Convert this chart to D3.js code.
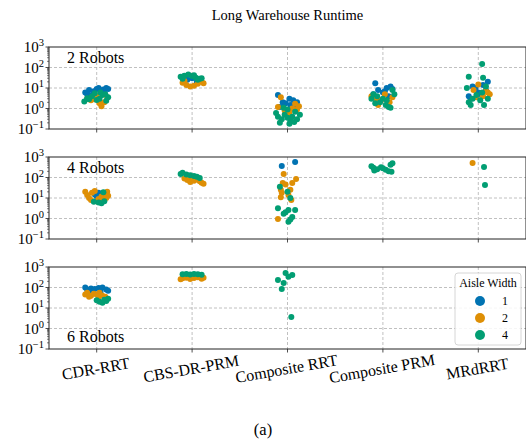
<!DOCTYPE html>
<html>
<head>
<meta charset="utf-8">
<script src="https://cdn.jsdelivr.net/npm/d3@7"></script>
<style>
  body { margin: 0; background: #fff; }
  svg { display: block; font-family: "Liberation Serif", "Times New Roman", serif; }
</style>
</head>
<body>
<div id="chart"></div>
<script>
const planners = ["CDR-RRT", "CBS-DR-PRM", "Composite RRT", "Composite PRM", "MRdRRT"];
const panels = ["2 Robots", "4 Robots", "6 Robots"];
const widths = [1, 2, 4];
const colors = ["#0173b2", "#de8f05", "#029e73"];
const decades = [-1, 0, 1, 2, 3];

// each run: [planner, aisle width, jitter (fraction of band), runtime]
const runs2 = [
  [0,1,-0.12,6],[0,1,-0.08,8],[0,1,-0.1,5],[0,1,-0.03,7],[0,1,0,9],[0,1,0.04,6.5],[0,1,0.07,8.5],[0,1,0.1,10],[0,1,0.12,9],[0,1,0.08,5.5],[0,1,-0.05,4.5],[0,1,0.02,10],
  [0,2,-0.1,3],[0,2,-0.06,2.5],[0,2,0,4],[0,2,0.05,1.3],[0,2,0.08,2],[0,2,0.11,3.5],[0,2,-0.02,2.8],[0,2,0.03,1.8],
  [0,4,-0.13,2.2],[0,4,-0.1,3.2],[0,4,-0.05,4],[0,4,-0.02,5.5],[0,4,0,2.6],[0,4,0.03,3],[0,4,0.06,4.5],[0,4,0.1,2.4],[0,4,0.12,3.5],[0,4,-0.08,2.8],[0,4,0.04,6],[0,4,0.09,5],
  [1,1,-0.05,25],[1,1,0,30],[1,1,0.05,20],[1,1,0.08,22],[1,1,-0.1,35],
  [1,2,-0.1,18],[1,2,-0.06,14],[1,2,-0.02,12],[1,2,0.02,13],[1,2,0.06,16],[1,2,0.1,20],[1,2,0.12,17],[1,2,-0.08,22],
  [1,4,-0.12,35],[1,4,-0.08,40],[1,4,-0.04,45],[1,4,0,38],[1,4,0.04,32],[1,4,0.08,28],[1,4,-0.1,28],[1,4,0.02,42],[1,4,0.06,25],[1,4,0.1,30],
  [2,1,-0.1,4.5],[2,1,-0.05,2],[2,1,0.02,3],[2,1,0.06,2.5],[2,1,0.1,2],[2,1,0.03,1.5],[2,1,-0.08,1.2],[2,1,0.08,1],[2,1,-0.02,1.8],
  [2,2,-0.07,3.5],[2,2,-0.1,1.2],[2,2,0.05,1],[2,2,0.1,0.9],[2,2,0.12,1.3],[2,2,-0.03,0.8],[2,2,0.02,0.6],[2,2,0.08,1.7],
  [2,4,-0.12,0.6],[2,4,-0.1,0.4],[2,4,-0.06,0.3],[2,4,-0.03,0.5],[2,4,0,0.9],[2,4,0.03,0.25],[2,4,0.05,0.4],[2,4,0.08,0.7],[2,4,-0.08,0.2],[2,4,0.02,0.18],[2,4,0.07,0.22],[2,4,0.1,0.3],[2,4,0.13,0.5],[2,4,-0.04,1.1],[2,4,0,0.35],
  [3,1,-0.08,17],[3,1,-0.05,8],[3,1,0,6],[3,1,0.04,10],[3,1,0.08,12],[3,1,0.1,9],[3,1,-0.1,5],[3,1,0.06,4],[3,1,0.02,7],
  [3,2,-0.12,4],[3,2,-0.07,3],[3,2,-0.02,2.5],[3,2,0.02,5],[3,2,0.07,2],[3,2,0.1,3.5],[3,2,-0.05,1.5],
  [3,4,-0.12,3],[3,4,-0.1,5],[3,4,-0.06,4],[3,4,-0.03,2],[3,4,0,3],[3,4,0.03,1.5],[3,4,0.06,1.2],[3,4,0.1,8],[3,4,0.12,5],[3,4,-0.08,1.8],[3,4,0.04,2.5],[3,4,0.08,1.1],
  [4,1,-0.1,4],[4,1,-0.06,12],[4,1,-0.03,10],[4,1,0,6],[4,1,0.05,14],[4,1,0.1,20],[4,1,0.08,8],[4,1,-0.08,3],[4,1,0.02,5],
  [4,2,-0.05,8],[4,2,0,15],[4,2,0.05,4],[4,2,0.1,6],[4,2,0.12,5],[4,2,-0.02,3.5],[4,2,0.08,7],
  [4,4,0.04,150],[4,4,-0.1,35],[4,4,0.05,32],[4,4,-0.1,2],[4,4,-0.06,3],[4,4,-0.02,4.5],[4,4,0.02,2.5],[4,4,0.06,1.5],[4,4,0.1,3],[4,4,0.04,6],[4,4,-0.08,1.5],[4,4,-0.12,10],[4,4,0.08,12]
];
const runs4 = [
  [0,1,-0.02,15],[0,1,0.02,18],[0,1,0,12],
  [0,2,-0.12,20],[0,2,-0.1,14],[0,2,-0.08,10],[0,2,-0.05,18],[0,2,-0.02,22],[0,2,0.02,9],[0,2,0.05,12],[0,2,0.08,16],[0,2,0.11,20],[0,2,0.12,13],[0,2,-0.06,8],[0,2,0,7],[0,2,0.06,9],[0,2,0.1,10],
  [0,4,0.02,6],[0,4,0.05,5.5],[0,4,0.08,7],[0,4,-0.03,6.5],[0,4,0.07,19],
  [1,2,-0.08,90],[1,2,-0.05,75],[1,2,-0.02,60],[1,2,0.02,70],[1,2,0.05,80],[1,2,0.08,65],[1,2,0.1,55],[1,2,0.12,50],[1,2,0,100],
  [1,4,-0.12,150],[1,4,-0.1,170],[1,4,-0.06,140],[1,4,-0.02,130],[1,4,0.02,120],[1,4,0.05,110],[1,4,0.08,95],
  [2,1,-0.06,365],[2,1,0.08,570],
  [2,2,-0.04,150],[2,2,0.09,85],[2,2,0.05,54],[2,2,-0.05,54],[2,2,-0.07,25],[2,2,-0.07,11],[2,2,0.03,25],[2,2,0.04,8],[2,2,0.01,14],[2,2,-0.1,0.95],[2,2,-0.02,45],[2,2,-0.06,18],
  [2,4,-0.08,35],[2,4,0,20],[2,4,0.03,10],[2,4,-0.1,3.2],[2,4,-0.02,2],[2,4,0.01,2.6],[2,4,0.08,2.6],[2,4,0.05,1.2],[2,4,0.01,0.7],[2,4,-0.04,1.7],[2,4,0.03,0.9],
  [3,4,-0.12,350],[3,4,-0.1,300],[3,4,-0.06,250],[3,4,-0.02,320],[3,4,0,280],[3,4,0.03,240],[3,4,0.06,200],[3,4,0.08,420],[3,4,0.1,500],[3,4,0.09,190],[3,4,-0.09,220],
  [4,2,-0.06,510],
  [4,4,0.06,325],[4,4,0.07,43]
];
const runs6 = [
  [0,1,-0.12,100],[0,1,-0.1,80],[0,1,-0.06,90],[0,1,-0.02,85],[0,1,0.02,95],[0,1,0.06,100],[0,1,0.1,80],[0,1,-0.08,60],[0,1,0.04,60],[0,1,0.12,70],
  [0,2,-0.12,45],[0,2,-0.1,55],[0,2,-0.06,40],[0,2,-0.03,50],[0,2,0,45],[0,2,0.03,55],[0,2,0.06,40],[0,2,0.09,35],[0,2,-0.08,35],[0,2,0.02,35],
  [0,4,0.03,20],[0,4,0.06,18],[0,4,0.1,22],[0,4,0.12,28],[0,4,0.08,25],[0,4,0,24],
  [1,1,-0.05,380],[1,1,0.05,400],
  [1,2,-0.1,280],[1,2,-0.06,300],[1,2,-0.02,260],[1,2,0.02,290],[1,2,0.06,320],[1,2,0.1,270],[1,2,-0.12,250],[1,2,0.12,300],[1,2,0,320],[1,2,-0.04,330],
  [1,4,-0.1,440],[1,4,-0.06,460],[1,4,-0.02,430],[1,4,0.02,460],[1,4,0.06,440],[1,4,0.1,420],
  [2,4,-0.02,510],[2,4,0.05,410],[2,4,0.01,330],[2,4,-0.1,230],[2,4,-0.04,165],[2,4,-0.06,85],[2,4,0.04,3.6]
];
const panelRuns = [runs2, runs4, runs6];

const W = 526, H = 443;
const left = 49, right = 526;
const panelTop = [47, 157, 267], panelH = 82;

const svg = d3.select("#chart").append("svg").attr("width", W).attr("height", H);

const x = d3.scaleBand().domain(planners).range([left, right]).paddingInner(0).paddingOuter(0);
const cx = p => x(p) + x.bandwidth() / 2;
const color = d3.scaleOrdinal().domain(widths).range(colors);

svg.append("text")
  .attr("x", (left + right) / 2).attr("y", 20)
  .attr("text-anchor", "middle").style("font-size", "14.5px")
  .text("Long Warehouse Runtime");

panels.forEach((name, i) => {
  const top = panelTop[i];
  const y = d3.scaleLog().domain([0.1, 1000]).range([top + panelH, top]);
  const g = svg.append("g");

  // grid
  g.selectAll("line.hgrid").data(decades.slice(1, -1)).enter().append("line")
    .attr("x1", left).attr("x2", right)
    .attr("y1", d => y(Math.pow(10, d))).attr("y2", d => y(Math.pow(10, d)))
    .style("stroke", "#b0b0b0").style("stroke-width", 0.8).style("stroke-dasharray", "3,2");
  g.selectAll("line.vgrid").data(planners).enter().append("line")
    .attr("x1", cx).attr("x2", cx)
    .attr("y1", top).attr("y2", top + panelH)
    .style("stroke", "#b0b0b0").style("stroke-width", 0.8).style("stroke-dasharray", "3,2");

  // points, drawn in hue order so width 4 ends on top
  const pts = widths.flatMap(w => panelRuns[i].filter(r => r[1] === w));
  g.selectAll("circle").data(pts).enter().append("circle")
    .attr("cx", d => cx(planners[d[0]]) + d[2] * x.bandwidth())
    .attr("cy", d => y(d[3]))
    .attr("r", 3)
    .style("fill", d => color(d[1]));

  // frame
  g.append("rect").attr("x", left).attr("y", top).attr("width", right - left).attr("height", panelH)
    .style("fill", "none").style("stroke", "#222").style("stroke-width", 1);

  // y ticks
  const minor = [];
  decades.slice(0, -1).forEach(d => { for (let k = 2; k < 10; k++) minor.push(k * Math.pow(10, d)); });
  g.selectAll("line.minor").data(minor).enter().append("line")
    .attr("x1", left - 2).attr("x2", left)
    .attr("y1", d => y(d)).attr("y2", d => y(d))
    .style("stroke", "#222").style("stroke-width", 0.6);
  g.selectAll("line.major").data(decades).enter().append("line")
    .attr("x1", left - 3.5).attr("x2", left)
    .attr("y1", d => y(Math.pow(10, d))).attr("y2", d => y(Math.pow(10, d)))
    .style("stroke", "#222").style("stroke-width", 0.8);
  const lab = g.selectAll("text.ytick").data(decades).enter().append("text")
    .attr("x", left - 5).attr("y", d => y(Math.pow(10, d)) + 5)
    .attr("text-anchor", "end").style("font-size", "15px");
  lab.append("tspan").text("10");
  lab.append("tspan").attr("dy", -6).style("font-size", "10.5px")
    .text(d => d < 0 ? "\u2212" + (-d) : d);

  // x ticks
  g.selectAll("line.xtick").data(planners).enter().append("line")
    .attr("x1", cx).attr("x2", cx)
    .attr("y1", top + panelH).attr("y2", top + panelH + 3.5)
    .style("stroke", "#222").style("stroke-width", 0.8);

  // panel label
  g.append("text")
    .attr("x", 67).attr("y", i === 2 ? top + 75 : top + 16)
    .style("font-size", "16px").text(name);
});

// x labels
svg.selectAll("text.xlab").data(planners).enter().append("text")
  .attr("transform", d => `translate(${cx(d)},${374}) rotate(-10)`)
  .attr("text-anchor", "middle").style("font-size", "16px")
  .text(d => d);

// legend
const lg = svg.append("g").attr("transform", "translate(455,273)");
lg.append("rect").attr("width", 66).attr("height", 72).attr("rx", 3)
  .style("fill", "#fff").style("fill-opacity", 0.85).style("stroke", "#ccc").style("stroke-width", 0.8);
lg.append("text").attr("x", 33).attr("y", 14).attr("text-anchor", "middle")
  .style("font-size", "12px").text("Aisle Width");
const items = lg.selectAll("g.item").data(widths).enter().append("g")
  .attr("transform", (d, k) => `translate(0,${28 + k * 17})`);
items.append("circle").attr("cx", 25).attr("cy", 0).attr("r", 5).style("fill", d => color(d));
items.append("text").attr("x", 50).attr("y", 4).attr("text-anchor", "middle")
  .style("font-size", "12px").text(d => d);

svg.append("text").attr("x", 263).attr("y", 435).attr("text-anchor", "middle")
  .style("font-size", "16.5px").text("(a)");
</script>
</body>
</html>
